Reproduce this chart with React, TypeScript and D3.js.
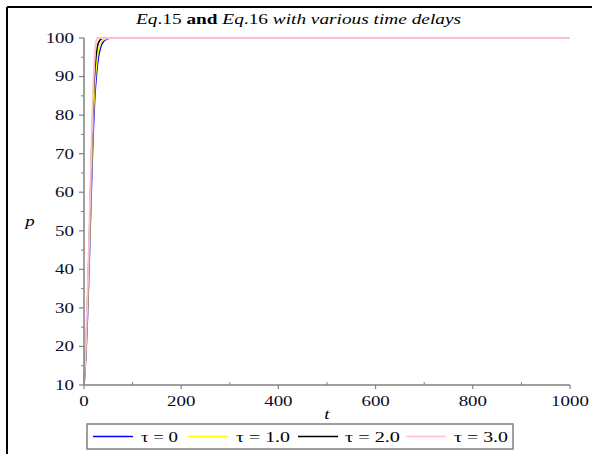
import React from "react";
import * as d3 from "d3";

// time points (t) shared by all series
const times = [0, 2, 4, 6, 8, 10, 12, 14, 16, 18, 20, 22, 25, 28, 32, 36, 40, 45, 50, 60, 80, 100, 200, 400, 600, 800, 1000];

// population p for each delay
const tau0 = [10, 13.5, 18, 23.5, 30.5, 38.5, 47, 56, 64.5, 72, 78.5, 84, 89.5, 93.5, 96.5, 98.2, 99.1, 99.6, 99.85, 100, 100, 100, 100, 100, 100, 100, 100];
const tau1 = [10, 14, 19, 25, 32.5, 41, 50, 59.5, 68, 75.5, 82, 87, 92, 95.5, 97.8, 99, 99.5, 99.8, 100, 100, 100, 100, 100, 100, 100, 100, 100];
const tau2 = [10, 14.5, 20, 26.5, 34.5, 43.5, 53, 63, 72, 80, 86.5, 91, 95.5, 98, 99.3, 99.8, 100, 100, 100, 100, 100, 100, 100, 100, 100, 100, 100];
const tau3 = [10, 15, 21, 28, 36, 45, 55, 65, 74.5, 83, 90, 95, 99, 100, 100, 100, 100, 100, 100, 100, 100, 100, 100, 100, 100, 100, 100];

const seriesLabels = ["τ = 0", "τ = 1.0", "τ = 2.0", "τ = 3.0"];
const seriesColors = ["#0000ff", "#ffff00", "#000000", "#ffc0cb"];
const seriesValues = [tau0, tau1, tau2, tau3];

const xTicks = [0, 200, 400, 600, 800, 1000];
const yTicks = [10, 20, 30, 40, 50, 60, 70, 80, 90, 100];

const W = 592;
const H = 454;
const serif = "Liberation Serif, Times New Roman, DejaVu Serif, serif";
const SX = 1.35; // the picture is stretched horizontally

export default function App() {
  const x = d3.scaleLinear().domain([0, 1000]).range([84, 570]);
  const y = d3.scaleLinear().domain([10, 100]).range([385, 38]);

  const line = d3
    .line<number>()
    .x((_, i) => x(times[i]))
    .y((d) => y(d))
    .curve(d3.curveMonotoneX);

  const xMinor = d3.range(100, 1000, 200);
  const yMinor = d3.range(15, 100, 10);
  const axisColor = "#808080";
  const labelColor = "#0a0a28";

  const legendItems = [
    { lx: 93, tx: 141, w: 37 },
    { lx: 188, tx: 236, w: 54 },
    { lx: 298, tx: 345, w: 55 },
    { lx: 406, tx: 454, w: 54 },
  ];

  const stretched = (tx: number, ty: number) =>
    `translate(${tx},${ty}) scale(${SX},1)`;

  return (
    <svg
      width={W}
      height={H}
      style={{ position: "absolute", left: 0, top: 0, background: "#fff", fontFamily: serif }}
    >
      {/* frame */}
      <line x1={7} y1={7} x2={W} y2={7} stroke="#000" strokeWidth={2} />
      <line x1={7} y1={7} x2={7} y2={H} stroke="#000" strokeWidth={2} />

      {/* title */}
      <text
        x={136}
        y={24}
        fontSize={14}
        fill="#000"
        textLength={325}
        lengthAdjust="spacingAndGlyphs"
      >
        <tspan fontStyle="italic">Eq</tspan>
        <tspan>.15 </tspan>
        <tspan fontWeight="bold">and </tspan>
        <tspan fontStyle="italic">Eq</tspan>
        <tspan>.16 </tspan>
        <tspan fontStyle="italic">with various time delays</tspan>
      </text>

      {/* series */}
      {seriesValues.map((vals, i) => (
        <path
          key={i}
          d={line(vals) || ""}
          fill="none"
          stroke={seriesColors[i]}
          strokeWidth={i === 3 ? 2 : 1.5}
        />
      ))}

      {/* y axis */}
      <line x1={x(0)} y1={y(10)} x2={x(0)} y2={y(100)} stroke={axisColor} strokeWidth={1.5} />
      {yTicks.map((t) => (
        <g key={t}>
          <line x1={x(0) - 5} y1={y(t)} x2={x(0)} y2={y(t)} stroke={axisColor} strokeWidth={1.2} />
          <text
            transform={stretched(x(0) - 10, y(t))}
            dy="0.35em"
            textAnchor="end"
            fontSize={14}
            fill={labelColor}
          >
            {t}
          </text>
        </g>
      ))}
      {yMinor.map((t) => (
        <line key={t} x1={x(0) - 3} y1={y(t)} x2={x(0)} y2={y(t)} stroke={axisColor} strokeWidth={1} />
      ))}

      {/* x axis */}
      <line x1={x(0)} y1={y(10)} x2={x(1000)} y2={y(10)} stroke={axisColor} strokeWidth={1.5} />
      {xTicks.map((t) => (
        <g key={t}>
          <line x1={x(t)} y1={y(10)} x2={x(t)} y2={y(10) + 4} stroke={axisColor} strokeWidth={1.2} />
          <text
            transform={stretched(x(t), y(10) + 16)}
            dy="0.35em"
            textAnchor="middle"
            fontSize={14}
            fill={labelColor}
          >
            {t}
          </text>
        </g>
      ))}
      {xMinor.map((t) => (
        <line key={t} x1={x(t)} y1={y(10) - 3} x2={x(t)} y2={y(10)} stroke={axisColor} strokeWidth={1} />
      ))}

      {/* axis labels */}
      <text transform={stretched(30, 226)} fontSize={14} fontStyle="italic" textAnchor="middle" fill="#000">
        p
      </text>
      <text transform={stretched(327, 419)} fontSize={14} fontStyle="italic" textAnchor="middle" fill="#000">
        t
      </text>

      {/* legend */}
      <rect x={87} y={424} width={426} height={25} fill="#fff" stroke="#808080" strokeWidth={1.5} />
      {legendItems.map((it, i) => (
        <g key={i}>
          <line x1={it.lx} y1={436.5} x2={it.lx + 40} y2={436.5} stroke={seriesColors[i]} strokeWidth={1.5} />
          <text
            x={it.tx}
            y={436.5}
            dy="0.35em"
            fontSize={15}
            fill="#000"
            textLength={it.w}
            lengthAdjust="spacingAndGlyphs"
          >
            {seriesLabels[i]}
          </text>
        </g>
      ))}
    </svg>
  );
}
